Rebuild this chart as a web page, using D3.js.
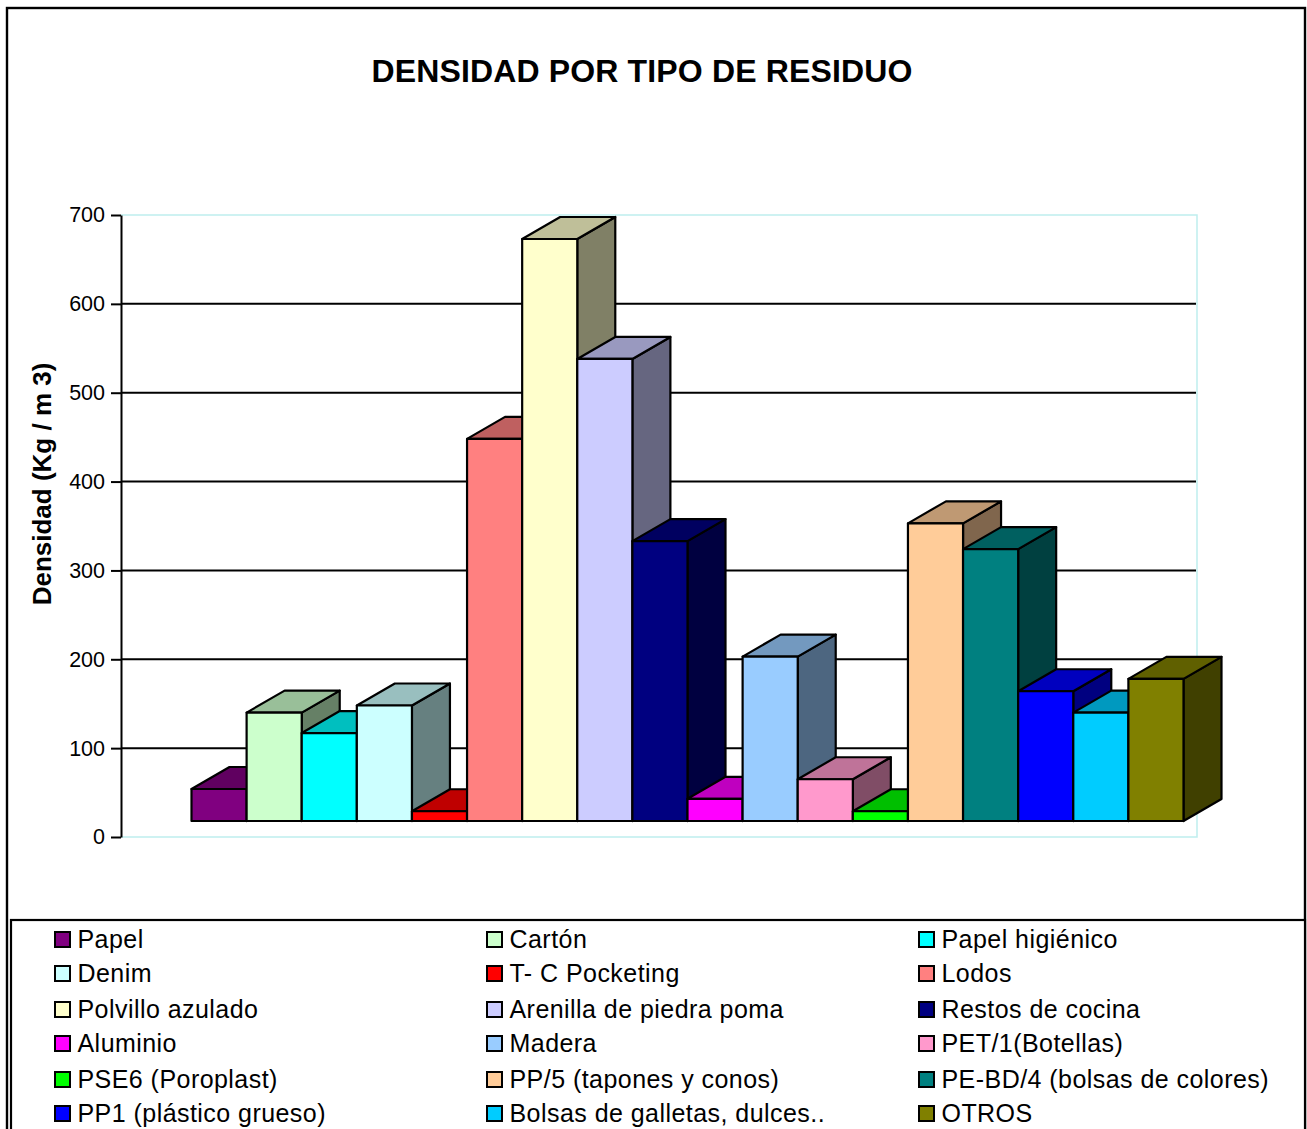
<!DOCTYPE html>
<html>
<head>
<meta charset="utf-8">
<script src="https://d3js.org/d3.v7.min.js"></script>
<style>
html, body { margin: 0; padding: 0; background: #fff; overflow: hidden; }
svg { display: block; font-family: "Liberation Sans", Arial, sans-serif; }
.axis text { font-size: 21.5px; fill: #000; }
.axis path, .axis line { stroke: #000; stroke-width: 2px; }
</style>
</head>
<body>
<div id="chart"></div>
<script>
var categories = ["Papel", "Cartón", "Papel higiénico", "Denim", "T- C Pocketing", "Lodos",
    "Polvillo azulado", "Arenilla de piedra poma", "Restos de cocina", "Aluminio", "Madera", "PET/1(Botellas)",
    "PSE6 (Poroplast)", "PP/5 (tapones y conos)", "PE-BD/4 (bolsas de colores)", "PP1 (plástico grueso)", "Bolsas de galletas, dulces..", "OTROS"];
var densidad = [54, 140, 117, 148, 29, 448, 673, 538, 333, 43, 203, 65, 29, 353, 324, 164, 140, 178];
var colores = ["#800080", "#ccffcc", "#00ffff", "#ccffff", "#ff0000", "#ff8080",
    "#ffffcc", "#ccccff", "#000080", "#ff00ff", "#99ccff", "#ff99cc",
    "#00ff00", "#ffcc99", "#008080", "#0000ff", "#00ccff", "#808000"];
var yTicks = [0, 100, 200, 300, 400, 500, 600, 700];
var baseValue = 18; // the bars stand a little above the axis zero in the 3D view

var width = 1307, height = 1129;
var depthX = 38, depthY = 22;

var svg = d3.select("#chart").append("svg")
    .attr("width", width)
    .attr("height", height);

var x = d3.scaleBand().domain(categories).range([191.5, 1183.5]);
var y = d3.scaleLinear().domain([0, 700]).range([837, 215]);

// outer frame
svg.append("rect")
    .attr("x", 7).attr("y", 8).attr("width", 1298).attr("height", 1140)
    .attr("fill", "#fff").attr("stroke", "#000").attr("stroke-width", 2.4);

svg.append("text")
    .attr("x", 642).attr("y", 82)
    .attr("text-anchor", "middle")
    .attr("font-size", 32).attr("font-weight", "bold")
    .attr("letter-spacing", 0.15)
    .text("DENSIDAD POR TIPO DE RESIDUO");

svg.append("text")
    .attr("transform", "translate(51,484) rotate(-90)")
    .attr("text-anchor", "middle")
    .attr("font-size", 26).attr("font-weight", "bold")
    .text("Densidad (Kg / m 3)");

// back wall outline
svg.append("path")
    .attr("d", "M121," + y(700) + "H1197V" + y(0) + "H121")
    .attr("fill", "none").attr("stroke", "#bfeeee").attr("stroke-width", 1.5);

// gridlines
svg.append("g").selectAll("line")
    .data(yTicks.slice(1, -1))
    .enter().append("line")
    .attr("x1", 121).attr("x2", 1196)
    .attr("y1", function (d) { return y(d); })
    .attr("y2", function (d) { return y(d); })
    .attr("stroke", "#000").attr("stroke-width", 2);

svg.append("g")
    .attr("class", "axis")
    .attr("transform", "translate(121,0)")
    .call(d3.axisLeft(y).tickValues(yTicks).tickSize(10).tickSizeOuter(0).tickPadding(6));

// bars, left to right so each one covers the side of the previous
var bars = svg.append("g").selectAll("g")
    .data(categories)
    .enter().append("g")
    .attr("stroke", "#000").attr("stroke-width", 2.2).attr("stroke-linejoin", "round");

function shade(i, k) {
    var c = d3.rgb(colores[i]);
    return d3.rgb(c.r * k, c.g * k, c.b * k).formatHex();
}

bars.append("path")
    .attr("fill", function (d, i) { return shade(i, 0.5); })
    .attr("d", function (d, i) {
        var x1 = x(d) + x.bandwidth(), t = y(densidad[i]), b = y(baseValue);
        return "M" + x1 + "," + t + "l" + depthX + "," + (-depthY) + "V" + (b - depthY) + "L" + x1 + "," + b + "Z";
    });

bars.append("path")
    .attr("fill", function (d, i) { return shade(i, 0.75); })
    .attr("d", function (d, i) {
        var x0 = x(d), t = y(densidad[i]);
        return "M" + x0 + "," + t + "l" + depthX + "," + (-depthY) + "h" + x.bandwidth() + "l" + (-depthX) + "," + depthY + "Z";
    });

bars.append("rect")
    .attr("fill", function (d, i) { return colores[i]; })
    .attr("x", function (d) { return x(d); })
    .attr("y", function (d, i) { return y(densidad[i]); })
    .attr("width", x.bandwidth())
    .attr("height", function (d, i) { return y(baseValue) - y(densidad[i]); });

// legend box
svg.append("rect")
    .attr("x", 11).attr("y", 920).attr("width", 1294).attr("height", 230)
    .attr("fill", "#fff").attr("stroke", "#000").attr("stroke-width", 2.2);

var colX = d3.scaleOrdinal().domain([0, 1, 2]).range([55, 487, 919]);
var rowY = d3.scaleOrdinal().domain([0, 1, 2, 3, 4, 5]).range([939, 973, 1009, 1043, 1079, 1113]);

var items = svg.append("g").selectAll("g")
    .data(categories)
    .enter().append("g")
    .attr("transform", function (d, i) {
        return "translate(" + colX(i % 3) + "," + rowY(Math.floor(i / 3)) + ")";
    });

items.append("rect")
    .attr("x", 0).attr("y", -7).attr("width", 15).attr("height", 15)
    .attr("fill", function (d, i) { return colores[i]; })
    .attr("stroke", "#000").attr("stroke-width", 2);

items.append("text")
    .attr("x", 22.5).attr("y", 9)
    .attr("font-size", 25)
    .attr("letter-spacing", 0.45)
    .text(function (d) { return d; });
</script>
</body>
</html>
